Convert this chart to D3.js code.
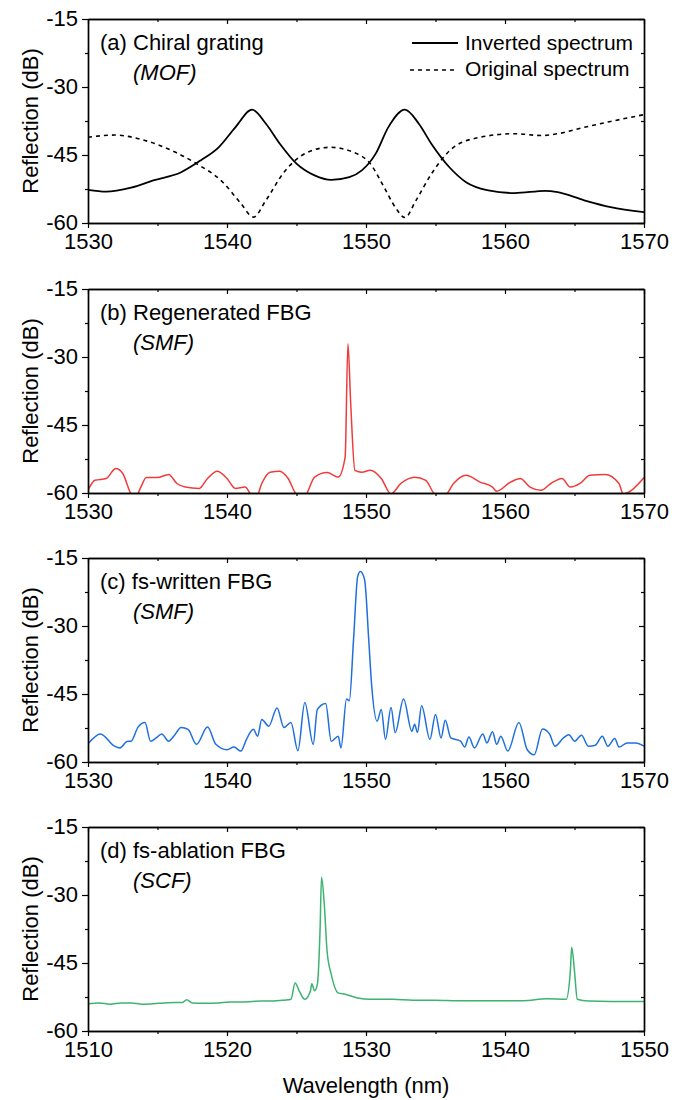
<!DOCTYPE html>
<html><head><meta charset="utf-8">
<script src="https://cdn.jsdelivr.net/npm/d3@7"></script>
<style>
html,body{margin:0;padding:0;background:#fff;}
svg{display:block;font-family:"Liberation Sans",Arial,sans-serif;}
</style></head>
<body><svg id="chart" width="684" height="1100"></svg>
<script>
// ---------- DATA ----------
const yTicks = [-60, -45, -30, -15];
const yMinorTicks = [-52.5, -37.5, -22.5];
const xTicksA = [1530, 1540, 1550, 1560, 1570];
const xTicksD = [1510, 1520, 1530, 1540, 1550];

// (a) Chiral grating - inverted spectrum (solid)
const invWl = [1530,1531.3,1533.1,1534.7,1536.7,1538.1,1539.4,1540.6,1541.8,1542.8,1543.8,1545.0,1546.3,1547.5,1548.8,1549.7,1550.7,1551.6,1552.8,1553.8,1554.7,1556.0,1557.2,1558.8,1560.7,1562.9,1563.8,1565.7,1567.6,1570];
const invDb = [-52.7,-53.1,-52.2,-50.6,-48.8,-46.2,-43.3,-38.9,-35.0,-38.1,-42.5,-46.9,-49.5,-50.5,-49.9,-48.4,-44.7,-38.9,-35.0,-38.1,-42.5,-47.7,-51.0,-52.8,-53.4,-52.9,-53.2,-55.0,-56.5,-57.6];
// (a) original spectrum (dotted)
const origWl = [1530,1531.9,1534.1,1536.3,1537.8,1539.7,1541.0,1541.9,1542.8,1544.1,1545.6,1547.4,1549.1,1550.3,1551.3,1552.1,1552.8,1553.6,1554.7,1556.3,1558.2,1560.7,1562.6,1563.8,1565.7,1567.6,1570];
const origDb = [-41.1,-40.6,-41.8,-44.4,-46.9,-51.0,-55.7,-58.7,-55.0,-48.8,-44.7,-43.3,-44.4,-46.9,-52.1,-56.5,-58.8,-55.0,-49.2,-43.3,-41.1,-40.3,-40.7,-40.3,-38.9,-37.6,-36.1];

// (b) Regenerated FBG
const regWl = [1530,1530.5,1531.3,1532.0,1532.5,1533.1,1533.4,1533.8,1534.2,1535.0,1535.8,1536.4,1537.0,1538.0,1538.6,1539.3,1540.0,1540.6,1541.3,1541.7,1542.1,1542.5,1543.1,1543.8,1544.4,1545.0,1545.6,1546.3,1547.2,1548.0,1548.5,1548.7,1548.9,1549.2,1549.7,1550.3,1551.1,1551.8,1552.5,1553.5,1554.3,1555.0,1555.7,1556.3,1557.2,1558.2,1559.1,1559.4,1560.4,1561.1,1561.8,1562.6,1563.3,1564.1,1564.7,1565.4,1566.1,1567.2,1568.2,1568.5,1569.1,1570];
const regDb = [-59.4,-57.2,-56.8,-54.6,-55.7,-60.2,-61.0,-58.7,-56.6,-56.6,-55.9,-57.9,-58.7,-59.0,-56.8,-55.2,-56.8,-59.0,-58.7,-60.2,-61.0,-57.9,-55.4,-55.2,-56.8,-60.2,-60.5,-56.5,-55.5,-56.5,-52.1,-27.1,-40.3,-55.0,-55.4,-55.0,-56.8,-60.2,-57.9,-56.5,-57.2,-60.3,-60.4,-57.9,-56.1,-57.6,-58.7,-59.6,-57.6,-56.8,-58.7,-59.4,-57.9,-56.8,-58.7,-57.9,-56.1,-55.9,-57.9,-60.2,-59.4,-56.6];

// (c) fs-written FBG
const fswWl = [1530,1530.9,1531.9,1532.3,1532.8,1533.1,1533.6,1534.1,1534.5,1534.9,1535.3,1535.8,1536.2,1536.7,1537.2,1537.8,1538.6,1539.2,1540.0,1540.5,1541.0,1541.4,1541.9,1542.2,1542.5,1543.0,1543.6,1544.1,1544.6,1545.1,1545.6,1546.2,1546.5,1547.1,1547.5,1548.0,1548.2,1548.6,1548.8,1549.1,1549.4,1549.6,1549.9,1550.2,1550.4,1550.8,1551.1,1551.4,1551.8,1552.1,1552.7,1553.3,1553.5,1553.7,1554.0,1554.6,1555.0,1555.4,1555.7,1556.1,1556.8,1557.1,1557.4,1557.8,1558.4,1558.7,1559.1,1559.4,1559.7,1560.2,1561.0,1561.6,1562.1,1562.7,1563.2,1563.6,1564.2,1564.6,1565.0,1565.5,1566.0,1566.5,1567.0,1567.4,1567.9,1568.2,1568.8,1569.4,1570];
const fswDb = [-56.0,-53.8,-56.5,-56.9,-55.5,-55.4,-52.3,-51.3,-55.4,-54.7,-53.8,-55.4,-54.2,-52.4,-52.8,-56.1,-52.3,-56.1,-57.3,-56.7,-57.6,-55.0,-52.8,-54.3,-50.6,-52.1,-48.1,-52.4,-51.3,-57.5,-46.9,-56.1,-48.4,-47.1,-55.4,-54.3,-56.9,-46.1,-46.5,-33.2,-19.1,-18.0,-19.8,-33.2,-42.8,-51.0,-48.4,-55.0,-48.0,-53.5,-46.1,-53.2,-51.7,-53.5,-47.6,-55.0,-49.5,-54.7,-50.8,-54.7,-55.4,-56.7,-54.5,-56.9,-53.8,-55.8,-53.3,-56.1,-54.3,-57.6,-51.3,-57.3,-58.4,-52.7,-53.8,-56.5,-54.7,-54.0,-55.4,-54.1,-56.5,-56.3,-54.3,-56.5,-54.8,-56.7,-55.8,-55.8,-56.5];

// (d) fs-ablation FBG
const fsaWl = [1510,1510.8,1511.6,1512.4,1513.1,1513.9,1514.7,1515.5,1516.3,1516.8,1517.1,1517.5,1518.4,1519.4,1520.2,1521.0,1521.8,1522.5,1523.3,1524.1,1524.6,1524.9,1525.2,1525.6,1526.0,1526.1,1526.3,1526.5,1526.7,1526.8,1527.0,1527.2,1527.5,1528.0,1528.5,1529.4,1530.3,1531.9,1533.4,1535.0,1536.6,1538.2,1539.8,1541.3,1543.0,1544.4,1544.7,1544.8,1545.0,1545.2,1546.0,1547.6,1549.0,1550];
const fsaDb = [-54.0,-53.8,-54.1,-53.8,-53.8,-54.1,-54.0,-53.8,-53.7,-53.7,-53.1,-53.8,-53.9,-53.8,-53.6,-53.6,-53.5,-53.4,-53.4,-53.2,-53.0,-49.4,-51.2,-53.0,-51.2,-49.6,-51.1,-49.7,-37.2,-26.1,-32.1,-42.4,-47.5,-51.6,-51.9,-52.7,-53.0,-53.0,-53.2,-53.2,-53.3,-53.3,-53.3,-53.3,-52.9,-53.0,-46.8,-41.5,-46.8,-53.0,-53.4,-53.5,-53.5,-53.5];

// ---------- LAYOUT ----------
const svg = d3.select("#chart");
const L = 88, R = 644, H = 204;
const tops = [19, 289, 558, 827];
const FS = 22;
const FONT = "'Liberation Sans', Arial, sans-serif";
const fmt = d => String(d);

function panel(idx, top, xDomain, xTicks, label, sub, series) {
  const g = svg.append("g");
  const x = d3.scaleLinear().domain(xDomain).range([L, R]);
  const y = d3.scaleLinear().domain([-60, -15]).range([top + H, top]);
  const xMinor = d3.range(xDomain[0] + 5, xDomain[1], 10);

  const clipId = "clip" + idx;
  svg.append("clipPath").attr("id", clipId).append("rect")
    .attr("x", L).attr("y", top).attr("width", R - L).attr("height", H);

  series.forEach(s => {
    const line = d3.line().x((d, i) => x(s.wl[i])).y(d => y(d)).curve(d3.curveMonotoneX);
    g.append("path").attr("d", line(s.db))
      .attr("clip-path", `url(#${clipId})`)
      .attr("fill", "none").attr("stroke", s.color)
      .attr("stroke-width", s.width)
      .attr("stroke-dasharray", s.dash || null)
      .attr("stroke-linejoin", "round");
  });

  const ax = (gen, tr) => g.append("g").attr("transform", tr).call(gen);
  const bottom = ax(d3.axisBottom(x).tickValues(xTicks).tickSize(5).tickSizeOuter(0).tickPadding(5).tickFormat(fmt), `translate(0,${top + H})`);
  ax(d3.axisBottom(x).tickValues(xMinor).tickSize(3).tickSizeOuter(0).tickFormat(""), `translate(0,${top + H})`);
  ax(d3.axisTop(x).tickValues(xTicks).tickSize(-5).tickSizeOuter(0).tickFormat(""), `translate(0,${top})`);
  ax(d3.axisTop(x).tickValues(xMinor).tickSize(-3).tickSizeOuter(0).tickFormat(""), `translate(0,${top})`);
  const left = ax(d3.axisLeft(y).tickValues(yTicks).tickSize(6).tickSizeOuter(0).tickPadding(4).tickFormat(fmt), `translate(${L},0)`);
  ax(d3.axisLeft(y).tickValues(yMinorTicks).tickSize(3).tickSizeOuter(0).tickFormat(""), `translate(${L},0)`);
  ax(d3.axisRight(y).tickValues(yTicks).tickSize(-5).tickSizeOuter(0).tickFormat(""), `translate(${R},0)`);
  ax(d3.axisRight(y).tickValues(yMinorTicks).tickSize(-3).tickSizeOuter(0).tickFormat(""), `translate(${R},0)`);

  g.selectAll(".domain").attr("stroke", "#000").attr("stroke-width", 1.4);
  g.selectAll(".tick line").attr("stroke", "#000").attr("stroke-width", 1.2);
  g.selectAll(".tick text").attr("font-size", FS).attr("font-family", FONT).attr("fill", "#000");
  bottom.selectAll(".tick text").attr("dy", "0.71em");
  left.selectAll(".tick text").attr("dy", "0.3em");

  g.append("text").attr("transform", `translate(38,${top + H / 2}) rotate(-90)`)
    .attr("text-anchor", "middle").attr("font-size", FS).attr("font-family", FONT).text("Reflection (dB)");

  g.append("text").attr("x", 100).attr("y", top + 31).attr("font-size", FS).attr("font-family", FONT).text(label);
  g.append("text").attr("x", 133).attr("y", top + 61).attr("font-size", FS).attr("font-family", FONT).attr("font-style", "italic").text(sub);
  return {x, y, g};
}

const pa = panel(0, tops[0], [1530, 1570], xTicksA, "(a) Chiral grating", "(MOF)", [
  {wl: origWl, db: origDb, color: "#000", width: 1.6, dash: "4,4"},
  {wl: invWl, db: invDb, color: "#000", width: 1.8}
]);
const lg = pa.g.append("g").attr("font-family", FONT);
lg.append("line").attr("x1", 412).attr("x2", 458).attr("y1", tops[0] + 24).attr("y2", tops[0] + 24).attr("stroke", "#000").attr("stroke-width", 1.8);
lg.append("text").attr("x", 465).attr("y", tops[0] + 31).attr("font-size", 21).text("Inverted spectrum");
lg.append("line").attr("x1", 410).attr("x2", 458).attr("y1", tops[0] + 51).attr("y2", tops[0] + 51).attr("stroke", "#000").attr("stroke-width", 1.6).attr("stroke-dasharray", "4,4");
lg.append("text").attr("x", 465).attr("y", tops[0] + 57).attr("font-size", 21).text("Original spectrum");

panel(1, tops[1], [1530, 1570], xTicksA, "(b) Regenerated FBG", "(SMF)", [
  {wl: regWl, db: regDb, color: "#ef3b3b", width: 1.5}
]);
panel(2, tops[2], [1530, 1570], xTicksA, "(c) fs-written FBG", "(SMF)", [
  {wl: fswWl, db: fswDb, color: "#1f6fdd", width: 1.5}
]);
panel(3, tops[3], [1510, 1550], xTicksD, "(d) fs-ablation FBG", "(SCF)", [
  {wl: fsaWl, db: fsaDb, color: "#3cb371", width: 1.5}
]);

svg.append("text").attr("x", (L + R) / 2).attr("y", 1093).attr("text-anchor", "middle")
  .attr("font-size", FS).attr("font-family", FONT).text("Wavelength (nm)");
</script></body></html>
